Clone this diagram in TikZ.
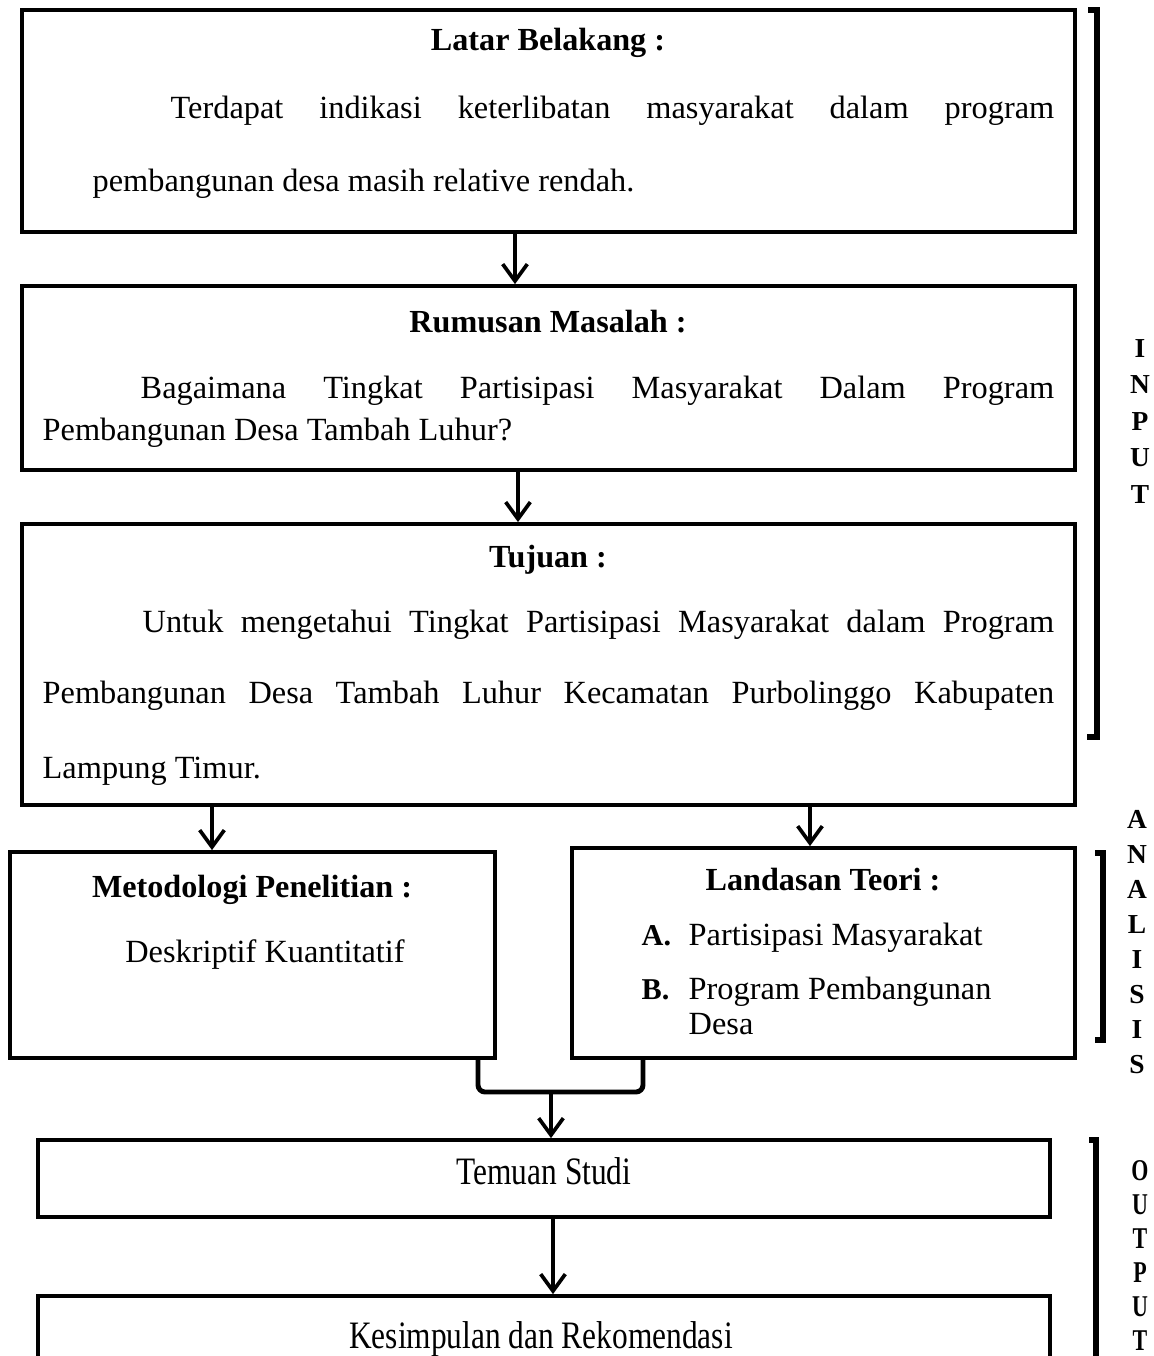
\documentclass[tikz,border=0pt]{standalone}
\usepackage{fontspec}
\setmainfont{Liberation Serif}
\usepackage{graphicx}
\usetikzlibrary{arrows.meta}

\tikzset{
  box/.style={draw, line width=1.05pt, inner sep=0pt},
  txt/.style={inner sep=0pt, anchor=base west},
  head/.style={inner sep=0pt, anchor=base, font=\bfseries\fontsize{9.15}{11}\selectfont},
  flow/.style={line width=1.05pt, -{Straight Barb[length=4.8pt, width=7pt]}},
  merge/.style={line width=1.4pt, rounded corners=2pt},
  bracket/.style={line width=1.6pt},
  side/.style={inner sep=0pt, anchor=base, font=\bfseries\fontsize{7.8}{9}\selectfont}
}

\begin{document}
\begin{tikzpicture}[x=0.01cm, y=-0.01cm, font=\fontsize{9.2}{11}\selectfont]
  \useasboundingbox (0,0) rectangle (1153,1356);

  % kotak utama
  \node[box, minimum width=10.53cm, minimum height=2.22cm] (latar) at (548.5,121) {};
  \node[box, minimum width=10.53cm, minimum height=1.84cm] (rumusan) at (548.5,378) {};
  \node[box, minimum width=10.53cm, minimum height=2.81cm] (tujuan) at (548.5,664.5) {};
  \node[box, minimum width=4.85cm, minimum height=2.06cm] (metode) at (252.5,955) {};
  \node[box, minimum width=5.03cm, minimum height=2.10cm] (teori) at (823.5,953) {};
  \node[box, minimum width=10.12cm, minimum height=0.77cm] (temuan) at (544,1178.5) {};
  \node[box, minimum width=10.12cm, minimum height=1.24cm] (simpul) at (544,1358) {};

  % isi kotak
  \node[head] (latarT) at (548,50) {Latar Belakang :};
  \node[txt] (latarA) at (170,118) {\makebox[8.83cm][s]{Terdapat indikasi keterlibatan masyarakat dalam program}};
  \node[txt] (latarB) at (92,191) {pembangunan desa masih relative rendah.};

  \node[head] (rumusanT) at (548,332) {Rumusan Masalah :};
  \node[txt] (rumusanA) at (140,398) {\makebox[9.13cm][s]{Bagaimana Tingkat Partisipasi Masyarakat Dalam Program}};
  \node[txt] (rumusanB) at (42,440) {Pembangunan Desa Tambah Luhur?};

  \node[head] (tujuanT) at (548,567) {Tujuan :};
  \node[txt] (tujuanA) at (142,632) {\makebox[9.11cm][s]{Untuk mengetahui Tingkat Partisipasi Masyarakat dalam Program}};
  \node[txt] (tujuanB) at (42,703) {\makebox[10.11cm][s]{Pembangunan Desa Tambah Luhur Kecamatan Purbolinggo Kabupaten}};
  \node[txt] (tujuanC) at (42,778) {Lampung Timur.};

  \node[head] (metodeT) at (252,897) {Metodologi Penelitian :};
  \node[inner sep=0pt, anchor=base] (metodeA) at (265,962) {Deskriptif Kuantitatif};

  \node[head] (teoriT) at (823,890) {Landasan Teori :};
  \node[txt, font=\bfseries\fontsize{8.6}{10}\selectfont] (teoriA) at (641,945) {A.};
  \node[txt] (teoriAt) at (688,945) {Partisipasi Masyarakat};
  \node[txt, font=\bfseries\fontsize{8.6}{10}\selectfont] (teoriB) at (641,999) {B.};
  \node[txt] (teoriBt) at (688,999) {Program Pembangunan};
  \node[txt] (teoriBu) at (688,1034) {Desa};

  \node[inner sep=0pt, anchor=base] (temuanT) at (544,1184) {\scalebox{0.97}[1.2]{Temuan Studi}};
  \node[inner sep=0pt, anchor=base] (simpulT) at (541,1348) {\scalebox{0.97}[1.2]{Kesimpulan dan Rekomendasi}};

  % panah
  \coordinate (c1) at (515,0);
  \coordinate (c2) at (518,0);
  \coordinate (c3) at (212,0);
  \coordinate (c4) at (810,0);
  \coordinate (c5) at (553,0);
  \draw[flow] (latar.south -| c1) -- (rumusan.north -| c1);
  \draw[flow] (rumusan.south -| c2) -- (tujuan.north -| c2);
  \draw[flow] (tujuan.south -| c3) -- (metode.north -| c3);
  \draw[flow] (tujuan.south -| c4) -- (teori.north -| c4);
  \coordinate (jL) at (478,1092);
  \coordinate (jR) at (643,1092);
  \coordinate (jM) at (551,1092);
  \draw[merge] (metode.south -| jL) -- (jL) -- (jR) -- (teori.south -| jR);
  \draw[flow] (jM) -- (temuan.north -| jM);
  \draw[flow] (temuan.south -| c5) -- (simpul.north -| c5);

  % kurung samping
  \draw[bracket] (1088,10) -- (1097,10) -- (1097,737) -- (1087,737);
  \draw[bracket] (1095,853) -- (1103,853) -- (1103,1040) -- (1095,1040);
  \draw[bracket] (1089,1140) -- (1096,1140) -- (1096,1420);
  \foreach \l [count=\i] in {I,N,P,U,T}
    \node[side] (in\i) at (1140,{320.5+36.5*\i}) {\l};
  \foreach \l [count=\i] in {A,N,A,L,I,S,I,S}
    \node[side] (an\i) at (1137,{793+35*\i}) {\l};
  \foreach \l [count=\i] in {O,U,T,P,U,T}
    \node[side] (out\i) at (1140,{1146+34*\i}) {\scalebox{0.8}[1.1]{\l}};
\end{tikzpicture}
\end{document}
